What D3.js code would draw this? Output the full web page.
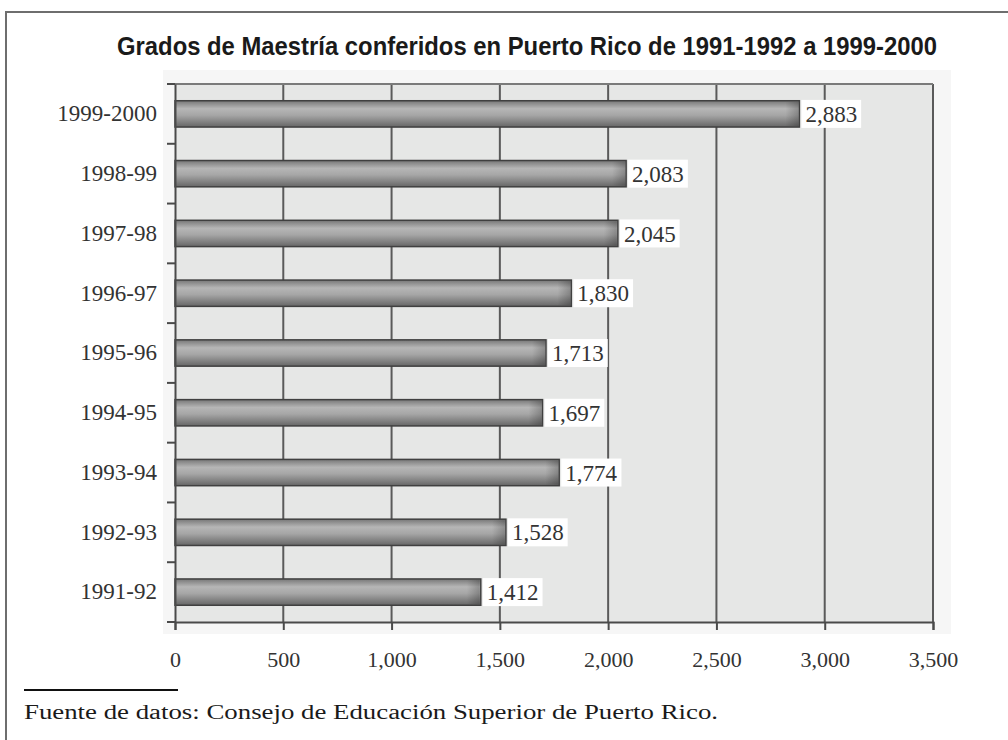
<!DOCTYPE html>
<html>
<head>
<meta charset="utf-8">
<script src="https://cdn.jsdelivr.net/npm/d3@7/dist/d3.min.js"></script>
<style>
  html, body { margin: 0; padding: 0; background: #fff; }
  svg { display: block; }
</style>
</head>
<body>
<svg id="chart" width="1008" height="740"></svg>
<script>
// Academic years (bottom to top in the chart) and master's degrees awarded
const years = ["1991-92", "1992-93", "1993-94", "1994-95", "1995-96", "1996-97", "1997-98", "1998-99", "1999-2000"];
const degrees = [1412, 1528, 1774, 1697, 1713, 1830, 2045, 2083, 2883];
const xTicks = [0, 500, 1000, 1500, 2000, 2500, 3000, 3500];

const titleText = "Grados de Maestría conferidos en Puerto Rico de 1991-1992 a 1999-2000";
const sourceText = "Fuente de datos: Consejo de Educación Superior de Puerto Rico.";

const svg = d3.select("#chart");
const serif = "'Liberation Serif', 'Times New Roman', serif";
const sans = "'Liberation Sans', Arial, sans-serif";

// Page frame (top and left rules)
svg.append("path")
  .attr("d", "M6,740 L6,12 L1008,12")
  .attr("fill", "none").attr("stroke", "#6e6e6e").attr("stroke-width", 2);

// Title
svg.append("text")
  .attr("x", 527).attr("y", 55)
  .attr("text-anchor", "middle")
  .attr("font-family", sans).attr("font-weight", "bold").attr("font-size", 25)
  .attr("textLength", 820).attr("lengthAdjust", "spacingAndGlyphs")
  .attr("fill", "#1a1a1a")
  .text(titleText);

const plot = { left: 175, right: 933, top: 84, bottom: 622 };

const x = d3.scaleLinear().domain([0, 3500]).range([plot.left, plot.right]);
const y = d3.scaleBand()
  .domain(years.slice().reverse())
  .range([plot.top, plot.bottom])
  .paddingInner(0.56).paddingOuter(0.28);

const data = years.map((yr, i) => ({ year: yr, value: degrees[i] }));

// Soft haze around the plot
svg.append("rect")
  .attr("x", plot.left - 12).attr("y", plot.top - 14)
  .attr("width", plot.right - plot.left + 30).attr("height", plot.bottom - plot.top + 26)
  .attr("fill", "#f6f6f6");

// Plot background
svg.append("rect")
  .attr("x", plot.left).attr("y", plot.top)
  .attr("width", plot.right - plot.left).attr("height", plot.bottom - plot.top)
  .attr("fill", "#e6e7e6");

// Vertical gridlines
svg.append("g")
  .selectAll("line")
  .data(xTicks.slice(1))
  .join("line")
  .attr("x1", d => x(d)).attr("x2", d => x(d))
  .attr("y1", plot.top).attr("y2", plot.bottom)
  .attr("stroke", "#5a5a5a").attr("stroke-width", 2);

// Top border of plot
svg.append("line")
  .attr("x1", plot.left).attr("x2", plot.right)
  .attr("y1", plot.top).attr("y2", plot.top)
  .attr("stroke", "#7a7a7a").attr("stroke-width", 2);

// Bar gradient (cylindrical shading)
const defs = svg.append("defs");
const grad = defs.append("linearGradient")
  .attr("id", "barGrad").attr("x1", 0).attr("y1", 0).attr("x2", 0).attr("y2", 1);
grad.append("stop").attr("offset", "0%").attr("stop-color", "#777");
grad.append("stop").attr("offset", "30%").attr("stop-color", "#b6b6b6");
grad.append("stop").attr("offset", "55%").attr("stop-color", "#a6a6a6");
grad.append("stop").attr("offset", "100%").attr("stop-color", "#666");

const endGrad = defs.append("linearGradient")
  .attr("id", "endGrad").attr("x1", 0).attr("y1", 0).attr("x2", 1).attr("y2", 0);
endGrad.append("stop").attr("offset", "0%").attr("stop-color", "#000").attr("stop-opacity", 0);
endGrad.append("stop").attr("offset", "100%").attr("stop-color", "#000").attr("stop-opacity", 0.22);

const bars = svg.append("g");
bars.selectAll("rect.bar")
  .data(data)
  .join("rect")
  .attr("class", "bar")
  .attr("x", x(0))
  .attr("y", d => y(d.year))
  .attr("width", d => x(d.value) - x(0))
  .attr("height", y.bandwidth())
  .attr("fill", "url(#barGrad)")
  .attr("stroke", "#404040").attr("stroke-width", 1.5);

// Shaded ends of the bars
bars.selectAll("rect.cap")
  .data(data)
  .join("rect")
  .attr("class", "cap")
  .attr("x", d => x(d.value) - 14)
  .attr("y", d => y(d.year) + 1)
  .attr("width", 13)
  .attr("height", y.bandwidth() - 2)
  .attr("fill", "url(#endGrad)");

// X axis
const xAxis = d3.axisBottom(x)
  .tickValues(xTicks)
  .tickFormat(d3.format(","))
  .tickSize(8)
  .tickPadding(21);
const gx = svg.append("g")
  .attr("transform", `translate(0,${plot.bottom})`)
  .call(xAxis);
gx.select(".domain").attr("stroke", "#4a4a4a").attr("stroke-width", 2);
gx.selectAll(".tick line").attr("stroke", "#4a4a4a").attr("stroke-width", 2);
gx.selectAll(".tick text")
  .attr("font-family", serif).attr("font-size", 22).attr("fill", "#333");

// Y axis: labels at band centres, ticks at band boundaries
const gy = svg.append("g")
  .attr("transform", `translate(${plot.left},0)`)
  .call(d3.axisLeft(y).tickSize(0).tickPadding(18));
gy.select(".domain").attr("stroke", "#4a4a4a").attr("stroke-width", 2);
gy.selectAll(".tick text")
  .attr("font-family", serif).attr("font-size", 23).attr("fill", "#333");

const step = y.step();
const boundaries = d3.range(years.length + 1).map(i => plot.top + i * step);
svg.append("g").selectAll("line")
  .data(boundaries)
  .join("line")
  .attr("x1", plot.left - 8).attr("x2", plot.left)
  .attr("y1", d => d).attr("y2", d => d)
  .attr("stroke", "#4a4a4a").attr("stroke-width", 2);

// Value labels on white boxes
const fmt = d3.format(",");
const labels = svg.append("g").selectAll("g")
  .data(data)
  .join("g")
  .attr("transform", d => `translate(${x(d.value) + 2},${y(d.year) + y.bandwidth() / 2})`);
labels.append("text")
  .attr("x", 4).attr("dy", "0.35em")
  .attr("font-family", serif).attr("font-size", 23).attr("fill", "#333")
  .text(d => fmt(d.value));
labels.each(function() {
  const g = d3.select(this);
  const bb = g.select("text").node().getBBox();
  g.insert("rect", "text")
    .attr("x", 0).attr("y", -14)
    .attr("width", bb.x + bb.width + 4).attr("height", 28)
    .attr("fill", "#fff");
});

// Source note
svg.append("line")
  .attr("x1", 24).attr("x2", 178).attr("y1", 690).attr("y2", 690)
  .attr("stroke", "#111").attr("stroke-width", 2);
svg.append("text")
  .attr("x", 24).attr("y", 719)
  .attr("font-family", serif).attr("font-size", 20)
  .attr("textLength", 694).attr("lengthAdjust", "spacingAndGlyphs")
  .attr("fill", "#1a1a1a")
  .text(sourceText);
</script>
</body>
</html>
